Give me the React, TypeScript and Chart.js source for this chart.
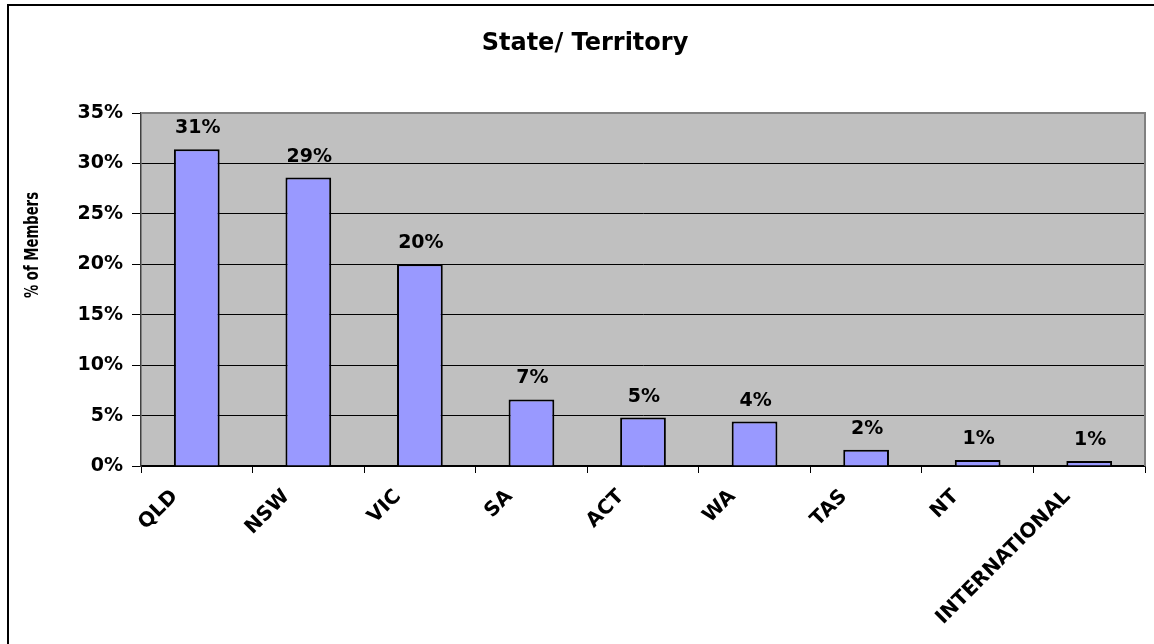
import React, { useEffect, useRef } from 'react';
import { Chart, registerables } from 'chart.js';

Chart.register(...registerables);

const categories = ['QLD', 'NSW', 'VIC', 'SA', 'ACT', 'WA', 'TAS', 'NT', 'INTERNATIONAL'];
const memberShare = [31.4, 28.6, 20.0, 6.6, 4.8, 4.4, 1.6, 0.6, 0.5];
const yMin = 0;
const yMax = 35;
const yStep = 5;
const titleText = 'State/ Territory';
const yTitleText = '% of Members';

const FONT = '"DejaVu Sans", sans-serif';

const decorPlugin = {
  id: 'decor',
  beforeDraw(chart: any) {
    const { ctx, chartArea: a } = chart;
    ctx.save();
    ctx.fillStyle = '#ffffff';
    ctx.fillRect(0, 0, chart.width, chart.height);
    ctx.fillStyle = '#C0C0C0';
    ctx.fillRect(a.left, a.top, a.right - a.left, a.bottom - a.top);
    ctx.restore();
  },
  afterDatasetsDraw(chart: any) {
    const { ctx } = chart;
    const meta = chart.getDatasetMeta(0);
    const data = chart.data.datasets[0].data as number[];
    ctx.save();
    ctx.fillStyle = '#000';
    ctx.font = `bold 19px ${FONT}`;
    ctx.textAlign = 'center';
    ctx.textBaseline = 'alphabetic';
    meta.data.forEach((el: any, i: number) => {
      ctx.fillText(Math.round(data[i]) + '%', el.x + 1, el.y - 16);
    });
    ctx.restore();
  },
  afterDraw(chart: any) {
    const { ctx, chartArea: a } = chart;
    ctx.save();
    // plot area top / right border
    ctx.strokeStyle = '#808080';
    ctx.lineWidth = 2;
    ctx.beginPath();
    ctx.moveTo(a.left, a.top);
    ctx.lineTo(a.right, a.top);
    ctx.lineTo(a.right, a.bottom);
    ctx.stroke();
    // outer frame
    ctx.strokeStyle = '#000';
    ctx.lineWidth = 2;
    ctx.strokeRect(8, 5, 3000, 3000);
    // title
    ctx.fillStyle = '#000';
    ctx.font = `bold 24px ${FONT}`;
    ctx.textAlign = 'center';
    ctx.textBaseline = 'alphabetic';
    ctx.fillText(titleText, 585, 50);
    // y title (condensed)
    ctx.translate(33, 245);
    ctx.rotate(-Math.PI / 2);
    ctx.font = `bold 20px ${FONT}`;
    const w = ctx.measureText(yTitleText).width;
    ctx.scale(106 / w, 1);
    ctx.textAlign = 'center';
    ctx.textBaseline = 'middle';
    ctx.fillText(yTitleText, 0, 0);
    ctx.restore();
  },
};

export default function App() {
  const ref = useRef<HTMLCanvasElement | null>(null);
  useEffect(() => {
    if (!ref.current) return;
    const chart = new Chart(ref.current, {
      type: 'bar',
      data: {
        labels: categories,
        datasets: [
          {
            data: memberShare,
            backgroundColor: '#9999FF',
            borderColor: '#000000',
            borderWidth: 2,
            categoryPercentage: 1,
            barPercentage: 0.41,
          },
        ],
      },
      options: {
        responsive: false,
        animation: false,
        layout: { padding: { left: 0, top: 113, right: 9, bottom: 0 } },
        plugins: {
          legend: { display: false },
          title: { display: false },
          tooltip: { enabled: false },
        },
        scales: {
          x: {
            afterFit(scale: any) {
              scale.height = 178;
            },
            grid: {
              offset: true,
              drawOnChartArea: false,
              color: '#000',
              tickLength: 7,
            },
            border: { color: '#000', width: 1.5 },
            ticks: {
              color: '#000',
              font: { family: 'DejaVu Sans', weight: 'bold', size: 20 },
              minRotation: 45,
              maxRotation: 45,
              autoSkip: false,
              padding: 12,
              labelOffset: -22,
            },
          },
          y: {
            min: yMin,
            max: yMax,
            afterFit(scale: any) {
              scale.width = 141;
            },
            grid: { color: '#000', lineWidth: 1, tickLength: 9 },
            border: { color: '#404040', width: 1.5 },
            ticks: {
              stepSize: yStep,
              color: '#000',
              padding: 9,
              font: { family: 'DejaVu Sans', weight: 'bold', size: 19 },
              callback: (v: any) => v + '%',
            },
          },
        },
      },
      plugins: [decorPlugin],
    });
    return () => chart.destroy();
  }, []);
  return (
    <div style={{ position: 'absolute', left: 0, top: 0, width: 1154, height: 644 }}>
      <canvas ref={ref} width={1154} height={644} style={{ display: 'block' }} />
    </div>
  );
}
